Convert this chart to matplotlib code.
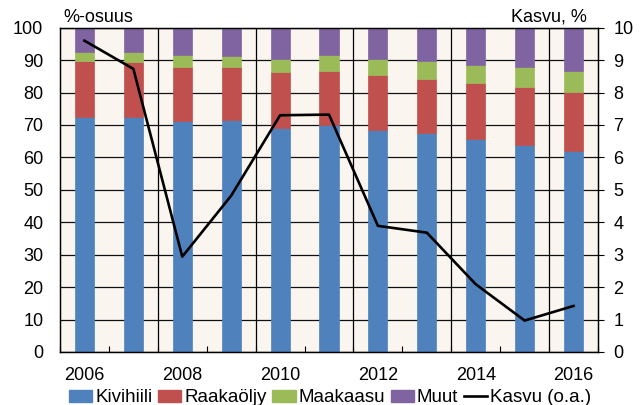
import numpy as np
import matplotlib
matplotlib.use('Agg')
import matplotlib.pyplot as plt
from matplotlib.patches import Patch
from matplotlib.lines import Line2D

plt.rcParams['font.family'] = ['Liberation Sans', 'DejaVu Sans']
plt.rcParams['font.size'] = 13

years = ['2006', '2007', '2008', '2009', '2010', '2011', '2012', '2013', '2014', '2015', '2016']
kivihiili = [72.4, 72.6, 71.3, 71.5, 69.2, 70.1, 68.4, 67.4, 65.6, 63.7, 61.9]
raakaoljy = [17.4, 16.7, 16.7, 16.3, 17.2, 16.6, 16.9, 16.9, 17.2, 18.1, 18.2]
maakaasu = [2.8, 3.1, 3.5, 3.6, 4.0, 4.9, 5.0, 5.5, 5.8, 6.1, 6.6]
muut = [7.4, 7.6, 8.5, 8.6, 9.6, 8.4, 9.7, 10.2, 11.4, 12.1, 13.3]
kasvu = [9.6, 8.73, 2.94, 4.82, 7.30, 7.32, 3.89, 3.68, 2.09, 0.97, 1.42]

series = [('Kivihiili', kivihiili, '#4F81BD'),
          ('Raakaöljy', raakaoljy, '#C0504D'),
          ('Maakaasu', maakaasu, '#9BBB59'),
          ('Muut', muut, '#8064A2')]

fig = plt.figure(figsize=(6.44, 4.05), dpi=100)
ax = fig.add_axes([60/644, 1-352/405, 538/644, 324.3/405])
ax.set_facecolor('#FAF5EF')
ax.set_axisbelow(True)

x = np.arange(len(years))
bottom = np.zeros(len(years))
for name, vals, col in series:
    ax.bar(x, vals, width=0.39, bottom=bottom, color=col, edgecolor=col, linewidth=0.5, label=name)
    bottom += np.array(vals)

ax.set_xlim(-0.5, len(years) - 0.5)
ax.set_ylim(0, 100)
ax.set_yticks(np.arange(0, 101, 10))
ax.yaxis.grid(True, color='#111111', linewidth=0.9)
for b in np.arange(1.5, len(years) - 1, 2):
    ax.axvline(b, color='black', linewidth=0.9, zorder=0.5)

ax.set_xticks(x[::2])
ax.set_xticklabels(years[::2])
ax.set_xticks(np.arange(-0.5, len(years), 1), minor=True)
ax.tick_params(axis='x', which='major', length=0, pad=11)
ax.tick_params(axis='x', which='minor', direction='in', length=4, width=0.8)
ax.tick_params(axis='y', length=0, pad=12)
for s in ax.spines.values():
    s.set_color('black')
    s.set_linewidth(0.9)

ax2 = ax.twinx()
ax2.plot(x, kasvu, color='black', linewidth=1.9)
ax2.set_ylim(0, 10)
ax2.set_yticks(np.arange(0, 11, 1))
ax2.tick_params(axis='y', direction='out', length=4, width=0.8, pad=7)
ax2.patch.set_visible(False)
for s in ax2.spines.values():
    s.set_color('black')
    s.set_linewidth(0.9)

fig.text(63/644, 1-17/405, '%-osuus', ha='left', va='center', fontsize=13)
fig.text(587/644, 1-17/405, 'Kasvu, %', ha='right', va='center', fontsize=13)

handles = [Patch(facecolor=c, edgecolor=c) for _, _, c in series]
handles.append(Line2D([0], [0], color='black', linewidth=1.9))
labels = [n for n, _, _ in series] + ['Kasvu (o.a.)']
fig.legend(handles, labels, loc='center', bbox_to_anchor=(330/644, 1-398/405), ncol=5,
           frameon=False, handlelength=1.25, handleheight=0.6, handletextpad=0.15,
           columnspacing=0.3, borderaxespad=0, borderpad=0, fontsize=13.5)

fig.savefig('out.png', dpi=100)
